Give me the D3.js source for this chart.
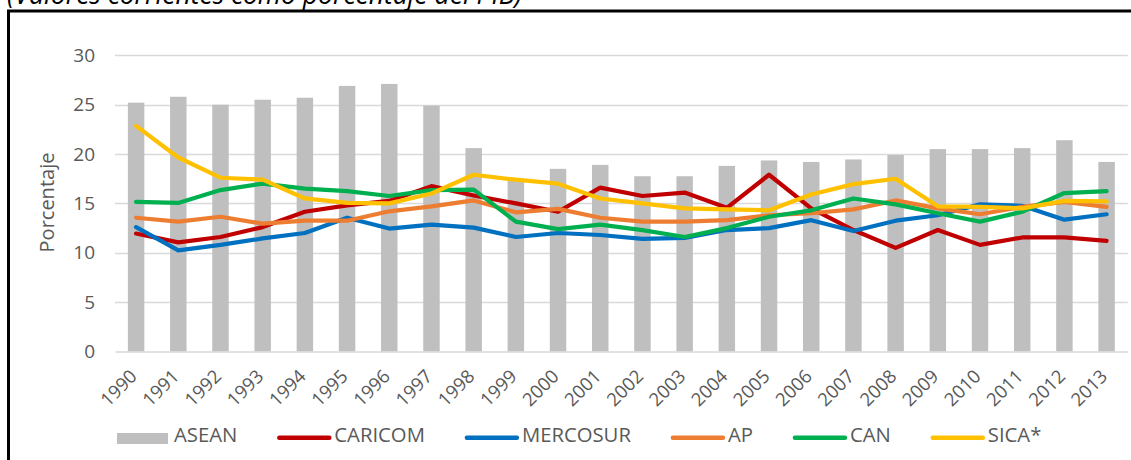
<!DOCTYPE html>
<html>
<head>
<meta charset="utf-8">
<script src="https://cdn.jsdelivr.net/npm/d3@7"></script>
<style>
  html, body { margin: 0; padding: 0; background: #fff; }
  svg text { font-family: "Open Sans", "Noto Sans", sans-serif; }
</style>
</head>
<body>
<svg id="chart" width="1131" height="460"></svg>
<script>
// categories
var years = ["1990", "1991", "1992", "1993", "1994", "1995", "1996", "1997",
  "1998", "1999", "2000", "2001", "2002", "2003", "2004", "2005", "2006",
  "2007", "2008", "2009", "2010", "2011", "2012", "2013"];

// bar series
var asean = [25.2, 25.8, 25.0, 25.5, 25.7, 26.9, 27.1, 24.9, 20.6, 17.3, 18.5,
  18.9, 17.75, 17.75, 18.8, 19.35, 19.2, 19.45, 19.9, 20.5, 20.5, 20.6, 21.4, 19.2];

// line series
var caricom = [11.95, 11.05, 11.6, 12.6, 14.15, 14.8, 15.25, 16.75, 15.8, 15.0,
  14.15, 16.6, 15.75, 16.1, 14.55, 17.9, 14.5, 12.3, 10.5, 12.3, 10.8, 11.55, 11.55, 11.2];
var mercosur = [12.6, 10.25, 10.8, 11.45, 12.0, 13.55, 12.45, 12.85, 12.55, 11.6,
  12.0, 11.8, 11.4, 11.5, 12.3, 12.5, 13.3, 12.2, 13.25, 13.8, 14.9, 14.75, 13.35, 13.9];
var ap = [13.55, 13.15, 13.65, 12.95, 13.25, 13.25, 14.2, 14.7, 15.3, 14.1,
  14.45, 13.55, 13.15, 13.15, 13.3, 13.8, 14.0, 14.4, 15.3, 14.5, 13.9, 14.65, 15.15, 14.65];
var can = [15.15, 15.05, 16.35, 17.0, 16.5, 16.25, 15.75, 16.35, 16.4, 13.15,
  12.4, 12.85, 12.3, 11.6, 12.5, 13.65, 14.3, 15.5, 14.9, 14.0, 13.15, 14.15, 16.05, 16.25];
var sica = [22.85, 19.65, 17.6, 17.4, 15.5, 15.05, 15.0, 16.0, 17.9, 17.4,
  17.0, 15.5, 15.0, 14.5, 14.4, 14.3, 15.9, 16.95, 17.5, 14.7, 14.65, 14.5, 15.25, 15.2];

// y tick labels
var yTicks = [0, 5, 10, 15, 20, 25, 30];

var lineSeries = [
  { name: "CARICOM", values: caricom, color: "#C00000" },
  { name: "MERCOSUR", values: mercosur, color: "#0070C0" },
  { name: "AP", values: ap, color: "#ED7D31" },
  { name: "CAN", values: can, color: "#00B050" },
  { name: "SICA*", values: sica, color: "#FFC000" }
];

var svg = d3.select("#chart");

// subtitle, mostly cut off by the top edge (as in the source picture)
svg.append("text")
  .attr("x", 7)
  .attr("y", 3.5)
  .style("font-style", "italic")
  .style("font-size", "26.5px")
  .attr("fill", "#000")
  .text("(Valores corrientes como porcentaje del PIB)");

// chart frame
svg.append("rect")
  .attr("x", 8.5)
  .attr("y", 11)
  .attr("width", 1300)
  .attr("height", 600)
  .attr("fill", "none")
  .attr("stroke", "#000")
  .attr("stroke-width", 3);

var x = d3.scaleBand()
  .domain(years)
  .range([115, 1127.7])
  .paddingInner(0.61)
  .paddingOuter(0.305);

var y = d3.scaleLinear()
  .domain([0, 30])
  .range([351.5, 55.3]);

// gridlines
svg.append("g")
  .selectAll("line")
  .data(yTicks.filter(function(d) { return d > 0; }))
  .enter()
  .append("line")
  .attr("x1", 115)
  .attr("x2", 1127.7)
  .attr("y1", function(d) { return Math.round(y(d)) + 0.5; })
  .attr("y2", function(d) { return Math.round(y(d)) + 0.5; })
  .attr("stroke", "#D9D9D9")
  .attr("stroke-width", 1.3);

// y axis labels
var yAxis = svg.append("g")
  .attr("transform", "translate(115,0)")
  .call(d3.axisLeft(y).tickValues(yTicks).tickSize(0).tickPadding(20));
yAxis.select(".domain").remove();
yAxis.selectAll("text")
  .attr("fill", "#595959")
  .style("font-size", "19px");

// axis title
svg.append("text")
  .attr("transform", "translate(53.5,202.5) rotate(-90)")
  .attr("text-anchor", "middle")
  .attr("fill", "#595959")
  .style("font-size", "20px")
  .text("Porcentaje");

// ASEAN bars
svg.append("g")
  .selectAll("rect")
  .data(asean)
  .enter()
  .append("rect")
  .attr("x", function(d, i) { return x(years[i]); })
  .attr("y", function(d) { return y(d); })
  .attr("width", x.bandwidth())
  .attr("height", function(d) { return y(0) - y(d); })
  .attr("fill", "#BFBFBF");

// x axis (category labels rotated)
var xAxis = svg.append("g")
  .attr("transform", "translate(0," + y(0) + ")")
  .call(d3.axisBottom(x).tickSize(0));
xAxis.select(".domain")
  .attr("stroke", "#D9D9D9")
  .attr("stroke-width", 1.5);
xAxis.selectAll("text")
  .attr("x", 0)
  .attr("y", 0)
  .attr("dy", 0)
  .attr("transform", "translate(2,26) rotate(-45)")
  .style("text-anchor", "end")
  .attr("fill", "#595959")
  .style("font-size", "18.5px");

// lines
var line = d3.line()
  .x(function(d, i) { return x(years[i]) + x.bandwidth() / 2; })
  .y(function(d) { return y(d); });

svg.append("g")
  .selectAll("path")
  .data(lineSeries)
  .enter()
  .append("path")
  .attr("d", function(s) { return line(s.values); })
  .attr("fill", "none")
  .attr("stroke", function(s) { return s.color; })
  .attr("stroke-width", 4.2)
  .attr("stroke-linejoin", "round")
  .attr("stroke-linecap", "round");

// legend
var legendItems = [{ name: "ASEAN", color: "#BFBFBF", bar: true }].concat(lineSeries);
var lx = 117;
var legend = svg.append("g");
legendItems.forEach(function(item) {
  if (item.bar) {
    legend.append("rect")
      .attr("x", lx)
      .attr("y", 433)
      .attr("width", 51)
      .attr("height", 11)
      .attr("fill", item.color);
  } else {
    legend.append("line")
      .attr("x1", lx + 2)
      .attr("x2", lx + 52)
      .attr("y1", 437.7)
      .attr("y2", 437.7)
      .attr("stroke", item.color)
      .attr("stroke-width", 4.5)
      .attr("stroke-linecap", "round");
  }
  var t = legend.append("text")
    .attr("x", lx + 57)
    .attr("y", 441.7)
    .attr("fill", "#595959")
    .style("font-size", "20.3px")
    .text(item.name);
  lx = lx + 57 + t.node().getComputedTextLength() + 40;
});
</script>
</body>
</html>
